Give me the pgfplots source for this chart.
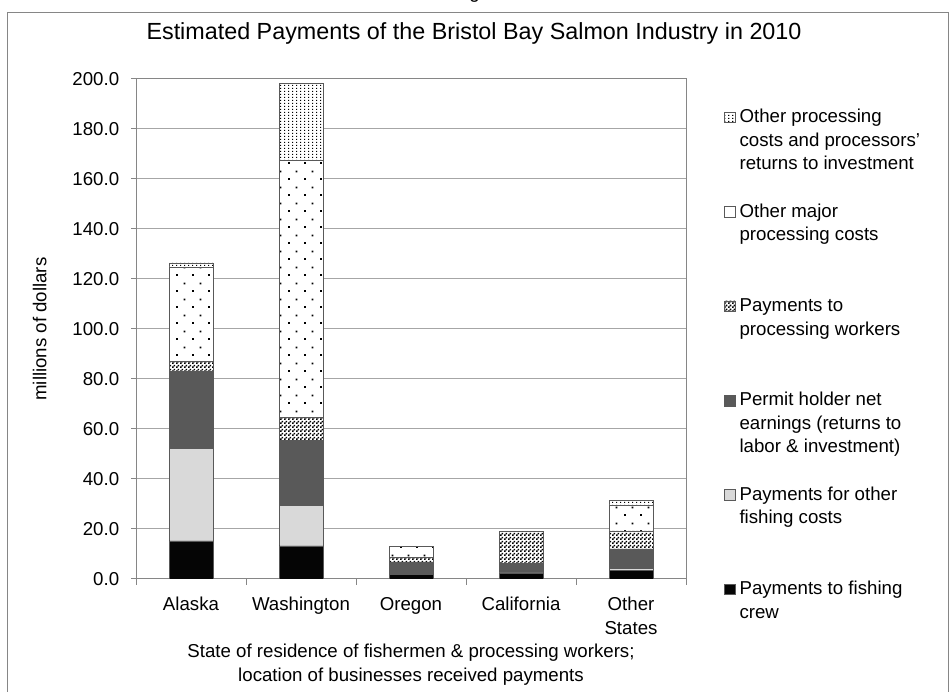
\documentclass[border=0pt]{standalone}
\usepackage{fontspec}
\setmainfont{Liberation Sans}
\usepackage{pgfplots}
\pgfplotsset{compat=1.18}
\usetikzlibrary{patterns}

% fill patterns of the three processing series
\pgfdeclarepatternformonly{finecheck}{\pgfpointorigin}{\pgfqpoint{3pt}{3pt}}{\pgfqpoint{3pt}{3pt}}{%
  \pgfpathrectangle{\pgfpointorigin}{\pgfqpoint{1.5pt}{1.5pt}}%
  \pgfpathrectangle{\pgfqpoint{1.5pt}{1.5pt}}{\pgfqpoint{1.5pt}{1.5pt}}%
  \pgfusepath{fill}}
\pgfdeclarepatternformonly{densedots}{\pgfpointorigin}{\pgfqpoint{3pt}{2.25pt}}{\pgfqpoint{3pt}{2.25pt}}{%
  \pgfpathrectangle{\pgfpointorigin}{\pgfqpoint{1.1pt}{1.1pt}}%
  \pgfusepath{fill}}
\pgfdeclarepatternformonly{sparsedots}{\pgfpointorigin}{\pgfqpoint{12pt}{12pt}}{\pgfqpoint{12pt}{12pt}}{%
  \pgfpathrectangle{\pgfpointorigin}{\pgfqpoint{1.4pt}{1.4pt}}%
  \pgfpathrectangle{\pgfqpoint{6pt}{6pt}}{\pgfqpoint{1.4pt}{1.4pt}}%
  \pgfusepath{fill}}

\definecolor{crew}{HTML}{050505}
\definecolor{fishcost}{HTML}{D9D9D9}
\definecolor{permit}{HTML}{595959}
\definecolor{gridc}{HTML}{A6A6A6}
\definecolor{axc}{HTML}{868686}

\newcommand{\legtxt}[1]{\parbox[t]{175pt}{\raggedright\strut #1}}

\begin{document}
\fontsize{14}{17.6}\selectfont
\begin{tikzpicture}
\useasboundingbox (0,0) rectangle (711.75pt,519pt);
\draw[axc, line width=0.75pt] (5.25pt,-5pt) -- (5.25pt,509.25pt) -- (711pt,509.25pt) -- (711pt,-5pt);
\node[anchor=base] at (356pt,520pt) {g};
\node at (355.5pt,494.25pt) {\fontsize{17.5}{21}\selectfont Estimated Payments of the Bristol Bay Salmon Industry in 2010};
\begin{axis}[
    at={(102pt,84.75pt)}, anchor=south west,
    scale only axis, width=412.5pt, height=375pt,
    ybar stacked, bar width=33pt,
    xmin=-0.5, xmax=4.5, ymin=0, ymax=200,
    xtick={0,...,4},
    xticklabels={Alaska,Washington,Oregon,California,{Other\\States}},
    xticklabel style={align=center, yshift=-5pt},
    minor xtick={-0.5,0.5,...,4.5},
    ytick={0,20,...,200},
    yticklabel style={xshift=-4pt, /pgf/number format/fixed, /pgf/number format/fixed zerofill,
        /pgf/number format/precision=1, /pgf/number format/assume math mode=true},
    tick align=outside, tick pos=left,
    major tick length=3.75pt, minor tick length=4.5pt,
    major x tick style={draw=none},
    tick style={axc, line width=0.75pt},
    axis line style={axc, line width=0.75pt},
    ymajorgrids, major grid style={gridc, line width=0.75pt},
    ylabel={millions of dollars},
    every axis y label/.style={at={(axis description cs:-0.175,0.5)}, rotate=90, anchor=center},
    xlabel={State of residence of fishermen \& processing workers;\\location of businesses received payments},
    every axis x label/.style={at={(axis description cs:0.5,-0.171)}, anchor=center, align=center},
    every axis plot/.append style={draw=black!65, line width=0.6pt,
        legend image code/.code={%
            % invisible spacer: fixes each legend row at 70.8pt
            \pgfpathmoveto{\pgfqpoint{0pt}{-58.4pt}}\pgfpathlineto{\pgfqpoint{0pt}{12.4pt}}%
            \pgfusepath{discard}%
            \draw[##1, line width=0.5pt] (0pt,0pt) rectangle (8pt,8pt);}},
    reverse legend,
    legend style={at={(1.069,0.946)}, anchor=north west, draw=none, fill=none,
        inner sep=0pt, row sep=0pt, column sep=3pt,
        cells={anchor=base west}, nodes={inner sep=0pt}},
]
\addplot[fill=crew] coordinates {(0,15.2) (1,13.2) (2,1.8) (3,2.1) (4,3.5)};
\addlegendentry{\legtxt{Payments to fishing\\crew}}
\addplot[fill=fishcost] coordinates {(0,37.1) (1,16.3) (2,0.4) (3,0.3) (4,0.6)};
\addlegendentry{\legtxt{Payments for other\\fishing costs}}
\addplot[fill=permit] coordinates {(0,30.7) (1,26.0) (2,4.6) (3,3.7) (4,7.9)};
\addlegendentry{\legtxt{Permit holder net\\earnings (returns to\\labor \& investment)}}
\addplot[fill=white, postaction={pattern=finecheck}] coordinates {(0,4.0) (1,9.0) (2,1.7) (3,12.9) (4,7.2)};
\addlegendentry{\legtxt{Payments to\\processing workers}}
\addplot[fill=white, postaction={pattern=sparsedots}] coordinates {(0,37.8) (1,103.0) (2,4.7) (3,0) (4,10.4)};
\addlegendentry{\legtxt{Other major\\processing costs}}
\addplot[fill=white, postaction={pattern=densedots}] coordinates {(0,1.6) (1,30.6) (2,0) (3,0) (4,1.9)};
\addlegendentry{\legtxt{Other processing\\costs and processors'\\returns to investment}}
\end{axis}
\end{tikzpicture}
\end{document}
